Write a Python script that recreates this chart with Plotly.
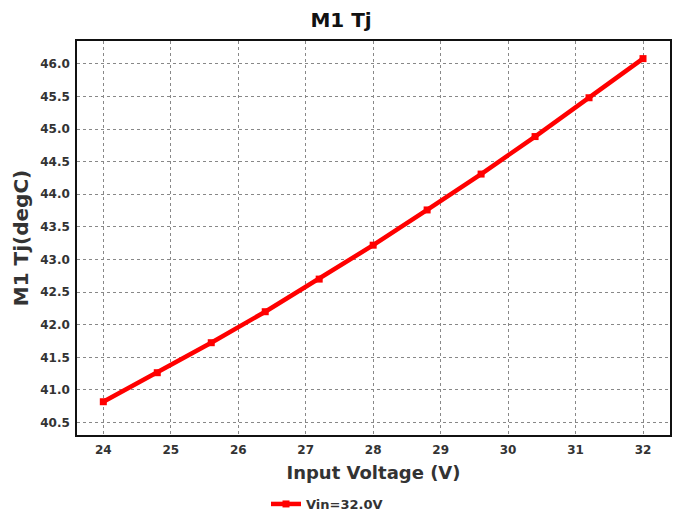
import plotly.graph_objects as go

vin = [24.0, 24.8, 25.6, 26.4, 27.2, 28.0, 28.8, 29.6, 30.4, 31.2, 32.0]
tj = [40.82, 41.265, 41.725, 42.20, 42.70, 43.22, 43.76, 44.31, 44.885, 45.48, 46.08]
series_name = "Vin=32.0V"
x_ticks = [24, 25, 26, 27, 28, 29, 30, 31, 32]
y_ticks = [40.5, 41.0, 41.5, 42.0, 42.5, 43.0, 43.5, 44.0, 44.5, 45.0, 45.5, 46.0]

font_family = "DejaVu Sans, Verdana, sans-serif"

fig = go.Figure()
fig.add_trace(go.Scatter(
    x=vin, y=tj, mode="lines+markers", name=f"<b>{series_name}</b>",
    line=dict(color="#ff0000", width=4.5),
    marker=dict(symbol="square", size=7, color="#ff0000"),
))

fig.update_layout(
    width=678, height=515,
    margin=dict(l=77, r=8, t=41, b=80),
    paper_bgcolor="white", plot_bgcolor="white",
    title=dict(text="<b>M1 Tj</b>", x=0.503, xanchor="center",
               y=0.961, yanchor="middle",
               font=dict(family=font_family, size=20, color="#111111")),
    showlegend=True,
    legend=dict(orientation="h", xref="container", yref="container",
                x=266 / 678, xanchor="left", y=(515 - 504) / 515, yanchor="middle",
                font=dict(family=font_family, size=13, color="#333333"),
                itemwidth=30, bgcolor="rgba(0,0,0,0)"),
    font=dict(family=font_family),
)

fig.update_xaxes(
    range=[23.61, 32.40], tickmode="array", tickvals=x_ticks,
    ticktext=[f"<b>{v}</b>" for v in x_ticks],
    tickfont=dict(family=font_family, size=12, color="#333333"),
    showgrid=True, gridcolor="#888888", griddash="dot", gridwidth=1,
    showline=True, linecolor="#111111", linewidth=1.5, mirror=True,
    zeroline=False, ticks="outside", ticklen=3, tickcolor="rgba(0,0,0,0)",
    automargin=False,
    title=dict(text="<b>Input Voltage (V)</b>", standoff=10,
               font=dict(family=font_family, size=18, color="#333333")),
)
fig.update_yaxes(
    range=[40.31, 46.35], tickmode="array", tickvals=y_ticks,
    ticktext=[f"<b>{v:.1f}</b>" for v in y_ticks],
    tickfont=dict(family=font_family, size=12, color="#333333"),
    showgrid=True, gridcolor="#888888", griddash="dot", gridwidth=1,
    showline=True, linecolor="#111111", linewidth=1.5, mirror=True,
    zeroline=False, ticks="outside", ticklen=3, tickcolor="rgba(0,0,0,0)",
    automargin=False,
    title=dict(text="<b>M1 Tj(degC)</b>", standoff=6,
               font=dict(family=font_family, size=20, color="#333333")),
)

fig.write_html("out.html", config={"displayModeBar": False},
               post_script="document.body.style.margin='0';")
